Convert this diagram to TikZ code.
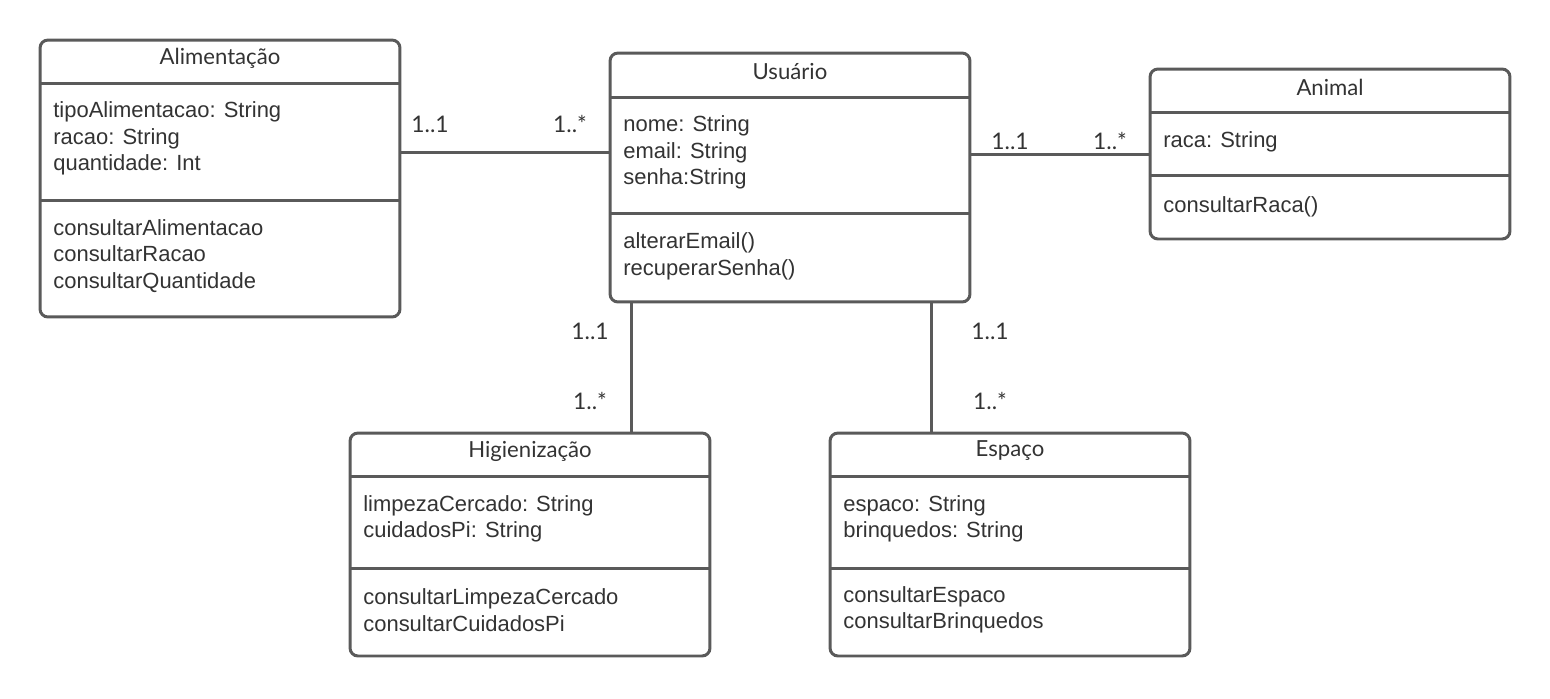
\documentclass[tikz,border=0pt]{standalone}
\usepackage{fontspec}
\setmainfont{Liberation Sans}
\newfontfamily\titlefont{Lato}
\definecolor{umlline}{HTML}{5A5A5A}
\definecolor{umltext}{HTML}{333333}
\tikzset{
  classbox/.style={draw=umlline, line width=1.7pt, rounded corners=4.5pt, inner sep=0pt, fill=white},
  divider/.style={draw=umlline, line width=1.7pt},
  assoc/.style={draw=umlline, line width=1.7pt},
  classname/.style={font=\titlefont\fontsize{12.6}{14}\selectfont, text=umltext, inner sep=0pt},
  members/.style={font=\fontsize{12.5}{15.1}\selectfont, text=umltext, align=left, anchor=west, inner sep=0pt},
  mult/.style={font=\titlefont\fontsize{13}{14}\selectfont, text=umltext, inner sep=0pt}
}
\begin{document}
\begin{tikzpicture}[x=0.02cm, y=-0.02cm]
		\useasboundingbox (0,0) rectangle (1550,698);
		% classes
		\node [classbox, minimum width=7.2cm, minimum height=5.54cm] (ali) at (220,178.5) {};
		\node [classbox, minimum width=7.2cm, minimum height=4.98cm] (usu) at (790,177.5) {};
		\node [classbox, minimum width=7.2cm, minimum height=3.4cm] (ani) at (1330,154) {};
		\node [classbox, minimum width=7.2cm, minimum height=4.46cm] (hig) at (530,544.5) {};
		\node [classbox, minimum width=7.2cm, minimum height=4.46cm] (esp) at (1010,544.5) {};
		% Alimentacao
		\node [classname] (aliname) at (220,58) {Alimentação};
		\draw [divider] (40,83) -- (400,83);
		\node [members] (aliattr) at (53,138.5) {tipoAlimentacao: String\\racao: String\\quantidade: Int};
		\draw [divider] (40,200) -- (400,200);
		\node [members] (alimeth) at (53,256) {consultarAlimentacao\\consultarRacao\\consultarQuantidade};
		% Usuario
		\node [classname] (usuname) at (790,72) {Usuário};
		\draw [divider] (610,97) -- (970,97);
		\node [members] (usuattr) at (623,152.5) {nome: String\\email: String\\senha:String};
		\draw [divider] (610,213) -- (970,213);
		\node [members] (usumeth) at (623,256.5) {alterarEmail()\\recuperarSenha()};
		% Animal
		\node [classname] (aniname) at (1330,87) {Animal};
		\draw [divider] (1150,112) -- (1510,112);
		\node [members] (aniattr) at (1163,142) {raca: String};
		\draw [divider] (1150,175) -- (1510,175);
		\node [members] (animeth) at (1163,207) {consultarRaca()};
		% Higienizacao
		\node [classname] (higname) at (530,451) {Higienização};
		\draw [divider] (350,476) -- (710,476);
		\node [members] (higattr) at (363,519) {limpezaCercado: String\\cuidadosPi: String};
		\draw [divider] (350,568) -- (710,568);
		\node [members] (higmeth) at (363,610) {consultarLimpezaCercado\\consultarCuidadosPi};
		% Espaco
		\node [classname] (espname) at (1010,451) {Espaço};
		\draw [divider] (830,476) -- (1190,476);
		\node [members] (espattr) at (843,519) {espaco: String\\brinquedos: String};
		\draw [divider] (830,568) -- (1190,568);
		\node [members] (espmeth) at (843,610) {consultarEspaco\\consultarBrinquedos};
		% associations
		\coordinate (usuhig) at (631,302);
		\coordinate (usuesp) at (931,302);
		\draw [assoc] (ali.east |- usuattr) -- (usu.west |- usuattr);
		\draw [assoc] (usu.east |- ani.west) -- (ani.west);
		\draw [assoc] (usuhig) -- (usuhig |- hig.north);
		\draw [assoc] (usuesp) -- (usuesp |- esp.north);
		% multiplicities
		\node [mult] (m1) at (430,124) {1..1};
		\node [mult] (m2) at (570,124) {1..*};
		\node [mult] (m3) at (1010,141) {1..1};
		\node [mult] (m4) at (1110,141) {1..*};
		\node [mult] (m5) at (590,331) {1..1};
		\node [mult] (m6) at (590,401) {1..*};
		\node [mult] (m7) at (990,331) {1..1};
		\node [mult] (m8) at (990,401) {1..*};
\end{tikzpicture}
\end{document}
